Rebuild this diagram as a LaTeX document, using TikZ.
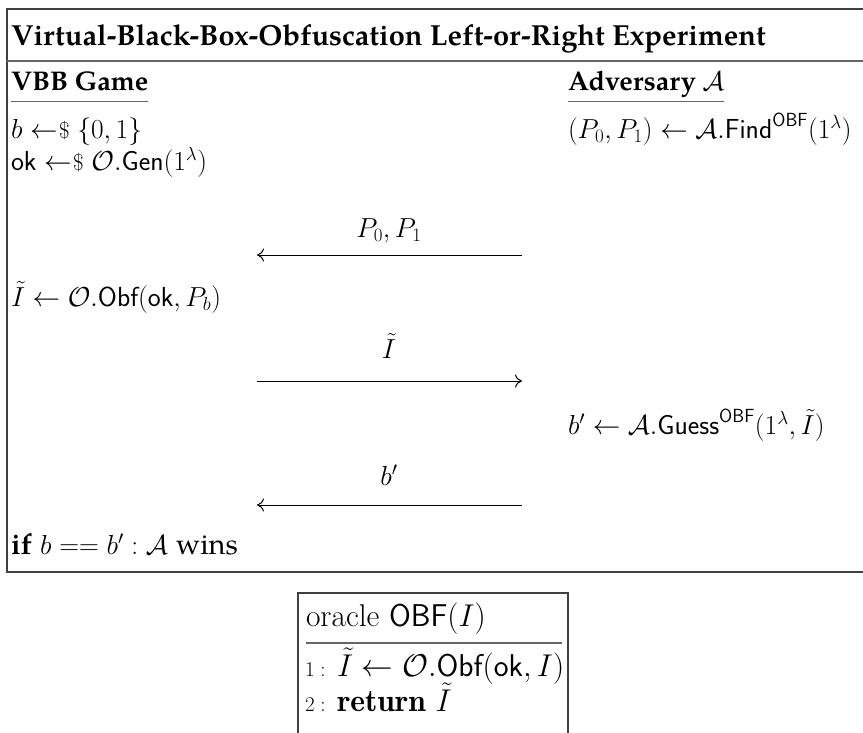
\RequirePackage{fix-cm}
\documentclass[tikz,border=0pt]{standalone}
\usepackage{amsmath,amssymb}
\usepackage{fontspec}
\newfontfamily\pal[Extension=.otf,UprightFont=*-regular,BoldFont=*-bold,ItalicFont=*-italic,BoldItalicFont=*-bolditalic]{texgyrepagella}
\usetikzlibrary{arrows.meta}
\DeclareMathSizes{27.5}{27.5}{19}{14}
\DeclareMathSizes{31.5}{31.5}{22}{16}
\DeclareMathSizes{21}{21}{15}{11}
\newcommand{\smp}{\mathrel{\leftarrow\mkern-4mu\mbox{\fontsize{23}{23}\selectfont\$}}}
\begin{document}
\begin{tikzpicture}[x=1pt,y=-1pt,
  every node/.style={inner sep=0pt,outer sep=0pt,font=\fontsize{27.5}{33}\selectfont},
  txt/.style={anchor=west,text height=20pt,text depth=7pt},
  otxt/.style={anchor=west,text height=22pt,text depth=8pt,font=\fontsize{31.5}{36}\selectfont},
  lbl/.style={anchor=center,text height=20pt,text depth=7pt},
  head/.style={txt,font=\pal\bfseries\fontsize{27}{32}\selectfont},
  frame/.style={draw=black!75,line width=1.2pt},
  rulel/.style={draw=black!60,line width=1.5pt},
  msg/.style={line width=1pt,-{Computer Modern Rightarrow[length=7pt,width=13pt]}}]
\useasboundingbox (0,0) rectangle (863,733);
% outer frame
\draw[frame] (7,9) rectangle (880,572);
\node[txt,font=\pal\bfseries\fontsize{29}{35}\selectfont] (title) at (11,39) {Virtual-Black-Box-Obfuscation Left-or-Right Experiment};
\draw[rulel] (7,61) -- (880,61);
% headings
\node[head] (vbb) at (11,84) {VBB Game};
\draw[rulel] ([yshift=-4pt]vbb.south west) -- ([yshift=-4pt]vbb.south east);
\node[head] (adv) at (568,84) {Adversary $\mathcal{A}$};
\draw[rulel] ([yshift=-4pt]adv.south west) -- ([yshift=-4pt]adv.south east);
% left column
\node[txt] (l1) at (11,132) {$b \smp \{0,1\}$};
\node[txt] (l2) at (11,164) {$\mathsf{ok} \smp \mathcal{O}.\mathsf{Gen}(1^\lambda)$};
\node[txt] (l3) at (11,300) {$\tilde{I} \leftarrow \mathcal{O}.\mathsf{Obf}(\mathsf{ok},P_b)$};
\node[txt] (l4) at (11,548) {{\pal\bfseries\fontsize{29}{33}\selectfont if} $b == b' : \mathcal{A}$ {\pal\fontsize{29}{33}\selectfont wins}};
% right column
\node[txt] (r1) at (568,132) {$(P_0,P_1) \leftarrow \mathcal{A}.\mathsf{Find}^{\mathsf{OBF}}(1^\lambda)$};
\node[txt] (r2) at (568,428) {$b' \leftarrow \mathcal{A}.\mathsf{Guess}^{\mathsf{OBF}}(1^\lambda,\tilde{I})$};
% messages
\coordinate (m1l) at (257,255); \coordinate (m1r) at (522,255);
\draw[msg] (m1r) -- (m1l);
\node[lbl] (t1) at (389,231) {$P_0,P_1$};
\coordinate (m2l) at (257,381); \coordinate (m2r) at (522,381);
\draw[msg] (m2l) -- (m2r);
\node[lbl] (t2) at (389,352) {$\tilde{I}$};
\coordinate (m3l) at (257,505); \coordinate (m3r) at (522,505);
\draw[msg] (m3r) -- (m3l);
\node[lbl] (t3) at (389,479) {$b'$};
% oracle box
\draw[frame] (298,760) |- (568,593) -- (568,760);
\node[otxt] (o0) at (306,619) {oracle $\mathsf{OBF}(I)$};
\draw[rulel,line width=1.2pt] (306,643) -- (562,643);
\node[txt,font=\fontsize{21}{24}\selectfont] (o1n) at (305,670) {$1:$};
\node[otxt] (o1) at (337,669) {$\tilde{I} \leftarrow \mathcal{O}.\mathsf{Obf}(\mathsf{ok},I)$};
\node[txt,font=\fontsize{21}{24}\selectfont] (o2n) at (305,705) {$2:$};
\node[otxt] (o2) at (337,704) {$\mathbf{return}\ \tilde{I}$};
\end{tikzpicture}
\end{document}
